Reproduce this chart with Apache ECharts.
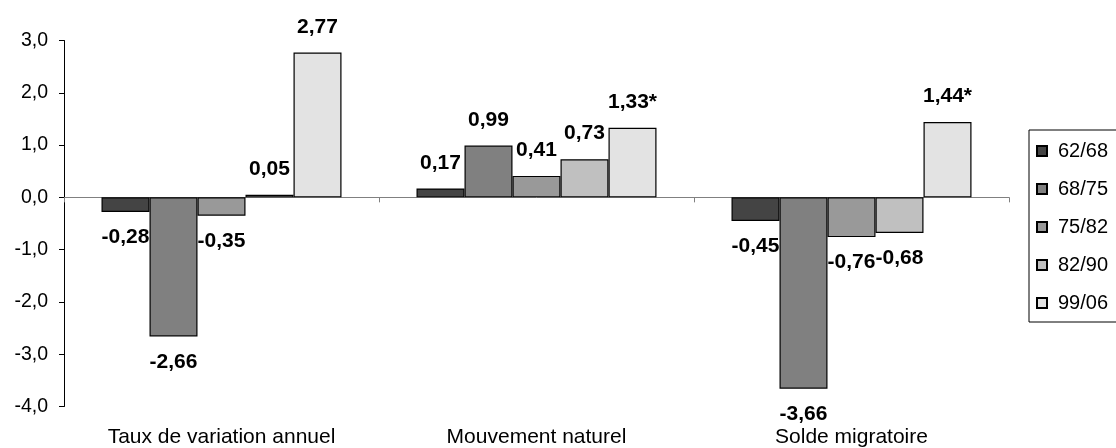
<!DOCTYPE html>
<html>
<head>
<meta charset="utf-8">
<title>Taux de variation annuel, mouvement naturel et solde migratoire</title>
<script src="https://cdn.jsdelivr.net/npm/echarts@6/dist/echarts.min.js"></script>
<style>
  html, body { margin: 0; padding: 0; background: #ffffff; }
  #chart { width: 1116px; height: 448px; }
</style>
</head>
<body>
<div id="chart"></div>
<script>
// Categories along the horizontal axis
const categories = ['Taux de variation annuel', 'Mouvement naturel', 'Solde migratoire'];

// Periods (one series each)
const periods = ['62/68', '68/75', '75/82', '82/90', '99/06'];

// Values in % per year, per period
const values6268 = [-0.28, 0.17, -0.45];
const values6875 = [-2.66, 0.99, -3.66];
const values7582 = [-0.35, 0.41, -0.76];
const values8290 = [0.05, 0.73, -0.68];
const values9906 = [2.77, 1.33, 1.44];

// Footnote markers appended to some labels
const notes9906 = ['', '*', '*'];

// Y axis range and step
const yMin = -4;
const yMax = 3;
const yStep = 1;

const seriesValues = [values6268, values6875, values7582, values8290, values9906];
const seriesNotes = [null, null, null, null, notes9906];
const fills = ['#444444', '#808080', '#999999', '#c0c0c0', '#e3e3e3'];

const FONT = '"Liberation Sans", Arial, sans-serif';

function frNumber(v, digits) {
  return v.toFixed(digits).replace('.', ',');
}

const series = periods.map((name, i) => ({
  name: name,
  type: 'bar',
  xAxisIndex: 0,
  barWidth: 48,
  barGap: '0%',
  data: seriesValues[i].map((v) => ({
    value: v,
    label: { position: v >= 0 ? 'top' : 'bottom' }
  })),
  itemStyle: { color: fills[i], borderColor: '#000000', borderWidth: 1.2 },
  label: {
    show: true,
    distance: 15,
    fontFamily: FONT,
    fontSize: 21,
    fontWeight: 'bold',
    color: '#000000',
    formatter: (p) => frNumber(p.value, 2) + (seriesNotes[i] ? seriesNotes[i][p.dataIndex] : '')
  },
  emphasis: { disabled: true },
  animation: false
}));

const chart = echarts.init(document.getElementById('chart'), null, { renderer: 'canvas' });

chart.setOption({
  backgroundColor: '#ffffff',
  animation: false,
  grid: { left: 64, right: 107, top: 40.5, height: 366 },
  legend: {
    orient: 'vertical',
    left: 1029,
    top: 130,
    padding: [11, 20, 9, 7],
    itemGap: 18,
    itemWidth: 10,
    itemHeight: 10,
    icon: 'rect',
    borderColor: '#000000',
    borderWidth: 1,
    backgroundColor: '#ffffff',
    selectedMode: false,
    textStyle: { fontFamily: FONT, fontSize: 20, color: '#000000', padding: [0, 0, 0, 6] },
    data: periods
  },
  xAxis: [
    {
      // category names, kept at the bottom of the plot
      type: 'category',
      data: categories,
      position: 'bottom',
      axisLine: { show: false, onZero: false },
      axisTick: { show: false },
      axisLabel: { fontFamily: FONT, fontSize: 21, color: '#000000', margin: 20, interval: 0 }
    },
    {
      // zero line with category separators
      type: 'category',
      data: categories,
      position: 'bottom',
      axisLine: { show: true, onZero: true, lineStyle: { color: '#808080', width: 1 } },
      axisTick: { show: true, length: 5, interval: 0, alignWithLabel: false, lineStyle: { color: '#808080' } },
      axisLabel: { show: false },
      splitLine: { show: false }
    }
  ],
  yAxis: {
    type: 'value',
    min: yMin,
    max: yMax,
    interval: yStep,
    axisLine: { show: true, lineStyle: { color: '#000000', width: 1 } },
    axisTick: { show: true, length: 5, lineStyle: { color: '#000000' } },
    splitLine: { show: false },
    axisLabel: {
      fontFamily: FONT,
      fontSize: 19.5,
      color: '#000000',
      margin: 16,
      formatter: (v) => frNumber(v, 1)
    }
  },
  series: series
});
</script>
</body>
</html>
